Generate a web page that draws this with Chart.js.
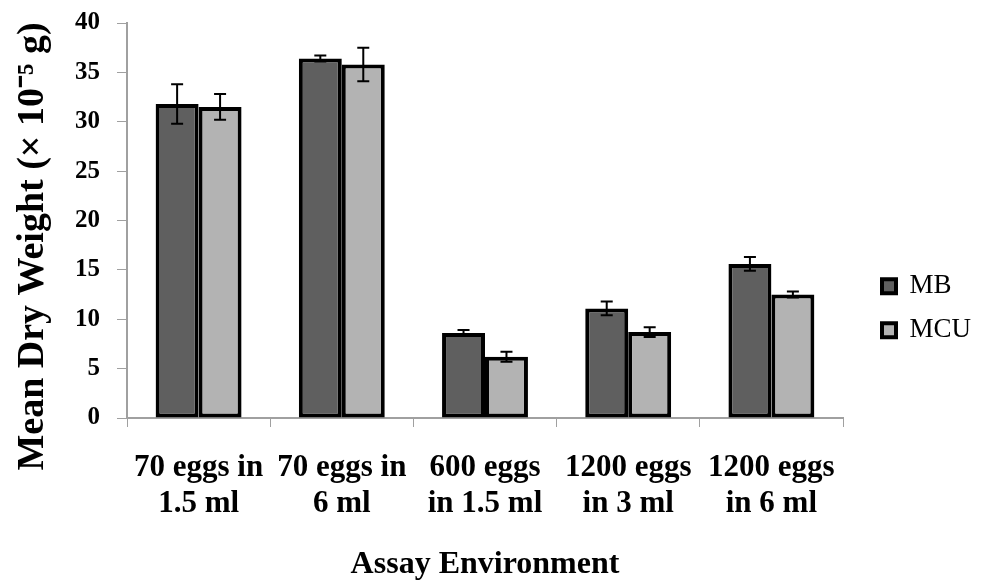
<!DOCTYPE html>
<html>
<head>
<meta charset="utf-8">
<script src="https://cdn.jsdelivr.net/npm/chart.js@4"></script>
<style>
  html, body { margin: 0; padding: 0; background: #fff; }
  #wrap { width: 982px; height: 584px; }
</style>
</head>
<body>
<div id="wrap"><canvas id="dryChart"></canvas></div>
<script>
// data
const categories = [
  ["70 eggs in", "1.5 ml"],
  ["70 eggs in", "6 ml"],
  ["600 eggs", "in 1.5 ml"],
  ["1200 eggs", "in 3 ml"],
  ["1200 eggs", "in 6 ml"]
];
const mbValues = [31.8, 36.4, 8.6, 11.1, 15.6];
const mbErrors = [2.0, 0.3, 0.3, 0.7, 0.7];
const mcuValues = [31.5, 35.8, 6.2, 8.7, 12.5];
const mcuErrors = [1.3, 1.7, 0.5, 0.5, 0.3];
const yTicks = [0, 5, 10, 15, 20, 25, 30, 35, 40];

const serif = "'Liberation Serif', 'Times New Roman', serif";

// error bars drawn on top of the bars
const errorBars = {
  id: "errorBars",
  afterDatasetsDraw(chart) {
    const ctx = chart.ctx;
    const y = chart.scales.y;
    ctx.save();
    ctx.strokeStyle = "#000";
    ctx.lineWidth = 2;
    chart.data.datasets.forEach((ds, i) => {
      const meta = chart.getDatasetMeta(i);
      meta.data.forEach((bar, j) => {
        const v = ds.data[j], e = ds.errors[j];
        const top = y.getPixelForValue(v + e);
        const bot = y.getPixelForValue(v - e);
        const cap = 6;
        ctx.beginPath();
        ctx.moveTo(bar.x, top); ctx.lineTo(bar.x, bot);
        ctx.moveTo(bar.x - cap, top); ctx.lineTo(bar.x + cap, top);
        ctx.moveTo(bar.x - cap, bot); ctx.lineTo(bar.x + cap, bot);
        ctx.stroke();
      });
    });
    ctx.restore();
  }
};

// legend gets a fixed-width column on the right, items pushed in a bit;
// y title sits a little below the middle of the plot like in the original
const layoutTweaks = {
  id: "layoutTweaks",
  beforeLayout(chart) {
    const lg = chart.legend;
    if (lg && !lg._fixed) {
      const fit = lg.fit;
      lg.fit = function () { fit.call(this); this.width = 139; };
      lg._fixed = true;
    }
  },
  afterLayout(chart) {
    if (chart.legend) chart.legend.left = chart.chartArea.right + 22;
    const ys = chart.scales.y;
    if (ys && !ys._shifted) {
      const draw = ys.drawTitle;
      ys.drawTitle = function () {
        this.ctx.save();
        this.ctx.translate(0, 26);
        draw.call(this);
        this.ctx.restore();
      };
      ys._shifted = true;
    }
  }
};

new Chart(document.getElementById("dryChart"), {
  type: "bar",
  data: {
    labels: categories,
    datasets: [
      {
        label: "MB",
        data: mbValues,
        errors: mbErrors,
        backgroundColor: "#5f5f5f",
        borderColor: "#000",
        borderWidth: 4,
        borderSkipped: false
      },
      {
        label: "MCU",
        data: mcuValues,
        errors: mcuErrors,
        backgroundColor: "#b3b3b3",
        borderColor: "#000",
        borderWidth: 4,
        borderSkipped: false
      }
    ]
  },
  plugins: [errorBars, layoutTweaks],
  options: {
    responsive: true,
    maintainAspectRatio: false,
    animation: false,
    datasets: {
      bar: { categoryPercentage: 0.6, barPercentage: 1.0 }
    },
    layout: { padding: { top: 23, right: 0, left: 0, bottom: 0 } },
    scales: {
      x: {
        afterFit(axis) { axis.height = 166; },
        grid: {
          offset: true,
          drawOnChartArea: false,
          color: "#a0a0a0",
          tickLength: 9
        },
        border: { color: "#a0a0a0", width: 2 },
        ticks: {
          color: "#000",
          maxRotation: 0,
          padding: 23,
          font: { family: serif, size: 31, weight: "bold", lineHeight: 1.16 }
        },
        title: {
          display: true,
          text: "Assay Environment",
          color: "#000",
          padding: { top: 0, bottom: 0 },
          font: { family: serif, size: 32, weight: "bold" }
        }
      },
      y: {
        min: 0,
        max: 40,
        afterFit(axis) {
          axis.width = 127;
          axis.paddingTop = 0;
          axis.paddingBottom = 0;
        },
        afterBuildTicks(axis) {
          axis.ticks = yTicks.map(v => ({ value: v }));
        },
        grid: {
          drawOnChartArea: false,
          color: "#a0a0a0",
          tickLength: 10
        },
        border: { color: "#a0a0a0", width: 2 },
        ticks: {
          color: "#000",
          padding: 17,
          font: { family: serif, size: 25, weight: "bold" }
        },
        title: {
          display: true,
          text: "Mean Dry Weight (× 10⁻⁵ g)",
          color: "#000",
          padding: { top: 10, bottom: 10 },
          font: { family: serif, size: 38, weight: "bold" }
        }
      }
    },
    plugins: {
      legend: {
        position: "right",
        title: { display: true, text: " ", padding: 0, font: { size: 8 } },
        labels: {
          color: "#000",
          boxWidth: 14,
          boxHeight: 14,
          padding: 17,
          font: { family: serif, size: 27 }
        }
      },
      tooltip: { enabled: false }
    }
  }
});
</script>
</body>
</html>
